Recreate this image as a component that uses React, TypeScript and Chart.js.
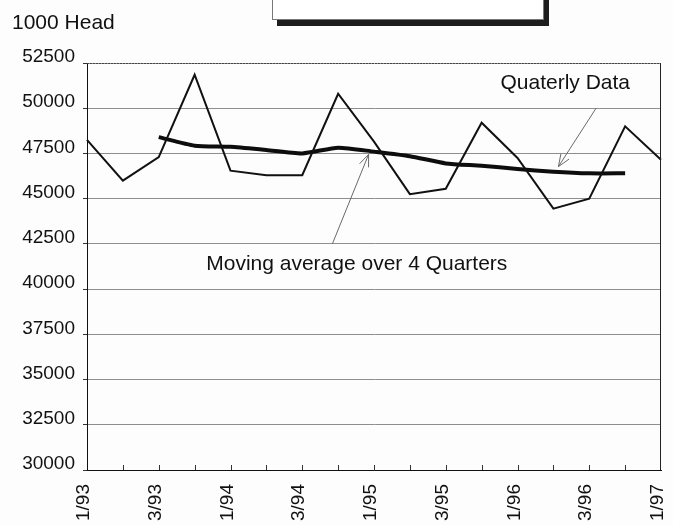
import React, { useEffect, useRef } from "react";
import { Chart, registerables } from "chart.js";

Chart.register(...registerables);

// ---- data ----
const categories = [
  "1/93", "2/93", "3/93", "4/93",
  "1/94", "2/94", "3/94", "4/94",
  "1/95", "2/95", "3/95", "4/95",
  "1/96", "2/96", "3/96", "4/96",
  "1/97",
];
const quarterlyData = [
  48250, 46000, 47300, 51850,
  46550, 46300, 46300, 50800,
  48150, 45250, 45550, 49200,
  47250, 44450, 45000, 49000,
  47150,
];
const movingAverage = [
  null, null, 48400, 47930,
  47870, 47690, 47500, 47820,
  47600, 47350, 46950, 46820,
  46640, 46490, 46400, 46400,
  null,
];
const yMin = 30000;
const yMax = 52500;
const yStep = 2500;
const unitLabel = "1000 Head";

// annotations (in data coordinates: category index, value)
const annotationTexts = ["Quaterly Data", "Moving average over 4 Quarters"];
const annotationTextAt = [
  [13.33, 51400],
  [7.52, 41350],
];
const arrowFrom = [
  [14.19, 50000],
  [6.84, 42500],
];
const arrowTo = [
  [13.14, 46770],
  [7.85, 47450],
];

const FONT = '"Liberation Sans", Arial, sans-serif';

const decorPlugin = {
  id: "decor",
  afterDraw(chart: any) {
    const { ctx, chartArea: a, scales } = chart;
    const xs = scales.x;
    const ys = scales.y;
    ctx.save();
    // frame top and right
    ctx.lineWidth = 1;
    ctx.strokeStyle = "#444";
    ctx.setLineDash([2, 1]);
    ctx.beginPath();
    ctx.moveTo(a.left, a.top + 0.5);
    ctx.lineTo(a.right, a.top + 0.5);
    ctx.stroke();
    ctx.setLineDash([]);
    ctx.strokeStyle = "#222";
    ctx.beginPath();
    ctx.moveTo(a.right - 0.5, a.top);
    ctx.lineTo(a.right - 0.5, a.bottom);
    ctx.stroke();
    // inward category ticks on the x axis
    ctx.strokeStyle = "#333";
    for (let i = 1; i < categories.length - 1; i++) {
      const px = Math.round(xs.getPixelForValue(i)) + 0.5;
      ctx.beginPath();
      ctx.moveTo(px, a.bottom);
      ctx.lineTo(px, a.bottom - 5);
      ctx.stroke();
    }
    // arrows
    ctx.strokeStyle = "#6a6a6a";
    ctx.lineWidth = 1;
    for (let k = 0; k < arrowFrom.length; k++) {
      const x0 = xs.getPixelForValue(arrowFrom[k][0]);
      const y0 = ys.getPixelForValue(arrowFrom[k][1]);
      const x1 = xs.getPixelForValue(arrowTo[k][0]);
      const y1 = ys.getPixelForValue(arrowTo[k][1]);
      ctx.beginPath();
      ctx.moveTo(x0, y0);
      ctx.lineTo(x1, y1);
      ctx.stroke();
      const ang = Math.atan2(y0 - y1, x0 - x1);
      const len = 13;
      const spread = 0.38;
      ctx.beginPath();
      ctx.moveTo(x1 + len * Math.cos(ang + spread), y1 + len * Math.sin(ang + spread));
      ctx.lineTo(x1, y1);
      ctx.lineTo(x1 + len * Math.cos(ang - spread), y1 + len * Math.sin(ang - spread));
      ctx.stroke();
    }
    // annotation text
    ctx.fillStyle = "#111";
    ctx.font = `21px ${FONT}`;
    ctx.textAlign = "center";
    ctx.textBaseline = "middle";
    for (let k = 0; k < annotationTexts.length; k++) {
      ctx.fillText(
        annotationTexts[k],
        xs.getPixelForValue(annotationTextAt[k][0]),
        ys.getPixelForValue(annotationTextAt[k][1])
      );
    }
    ctx.restore();
  },
};

const bgPlugin = {
  id: "bg",
  beforeDraw(chart: any) {
    const { ctx, width, height } = chart;
    ctx.save();
    ctx.fillStyle = "#fdfdfd";
    ctx.fillRect(0, 0, width, height);
    ctx.restore();
  },
};

export default function App() {
  const ref = useRef<HTMLCanvasElement | null>(null);

  useEffect(() => {
    if (!ref.current) return;
    const chart = new Chart(ref.current, {
      type: "line",
      data: {
        labels: categories,
        datasets: [
          {
            label: "Quaterly Data",
            data: quarterlyData,
            borderColor: "#111",
            borderWidth: 2,
            pointRadius: 0,
            tension: 0,
          },
          {
            label: "Moving average over 4 Quarters",
            data: movingAverage,
            borderColor: "#0d0d0d",
            borderWidth: 4,
            pointRadius: 0,
            tension: 0.2,
            spanGaps: false,
          },
        ],
      },
      options: {
        animation: false,
        responsive: false,
        maintainAspectRatio: false,
        layout: { padding: { top: 63, right: 12, left: 0, bottom: 0 } },
        plugins: {
          legend: { display: false },
          title: { display: false },
          tooltip: { enabled: false },
        },
        scales: {
          x: {
            type: "category",
            offset: false,
            grid: { display: false, drawTicks: false },
            border: { display: true, color: "#111", width: 1 },
            ticks: {
              autoSkip: false,
              minRotation: 90,
              maxRotation: 90,
              padding: 14,
              labelOffset: -3,
              color: "#111",
              font: { family: FONT, size: 19 },
              callback: (_v: any, i: number) => (i % 2 === 0 ? categories[i] : ""),
            },
            afterFit: (s: any) => {
              s.height = 55;
              s.paddingLeft = 0;
              s.paddingRight = 0;
            },
          },
          y: {
            min: yMin,
            max: yMax,
            grid: {
              color: "#8e8e8e",
              lineWidth: 1,
              drawTicks: true,
              tickLength: 4,
              tickColor: "#333",
            },
            border: { display: true, color: "#111", width: 1 },
            ticks: {
              stepSize: yStep,
              padding: 8,
              labelOffset: -6,
              color: "#111",
              font: { family: FONT, size: 19 },
              callback: (v: any) => String(v),
            },
            afterFit: (s: any) => {
              s.width = 87;
            },
          },
        },
      },
      plugins: [bgPlugin, decorPlugin],
    });
    return () => chart.destroy();
  }, []);

  return (
    <div
      style={{
        position: "absolute",
        left: 0,
        top: 0,
        width: 673,
        height: 525,
        overflow: "hidden",
        background: "#fdfdfd",
      }}
    >
      <canvas
        ref={ref}
        width={673}
        height={525}
        style={{ position: "absolute", left: 0, top: 0, width: 673, height: 525 }}
      />
      <div
        style={{
          position: "absolute",
          left: 12,
          top: 11,
          fontFamily: FONT,
          fontSize: 21,
          lineHeight: "21px",
          color: "#111",
          whiteSpace: "nowrap",
        }}
      >
        {unitLabel}
      </div>
      <div
        style={{
          position: "absolute",
          left: 272,
          top: -12,
          width: 270,
          height: 30,
          border: "1px solid #777",
          background: "#fff",
          boxShadow: "5px 6px 0 #1e1e1e",
        }}
      />
    </div>
  );
}
